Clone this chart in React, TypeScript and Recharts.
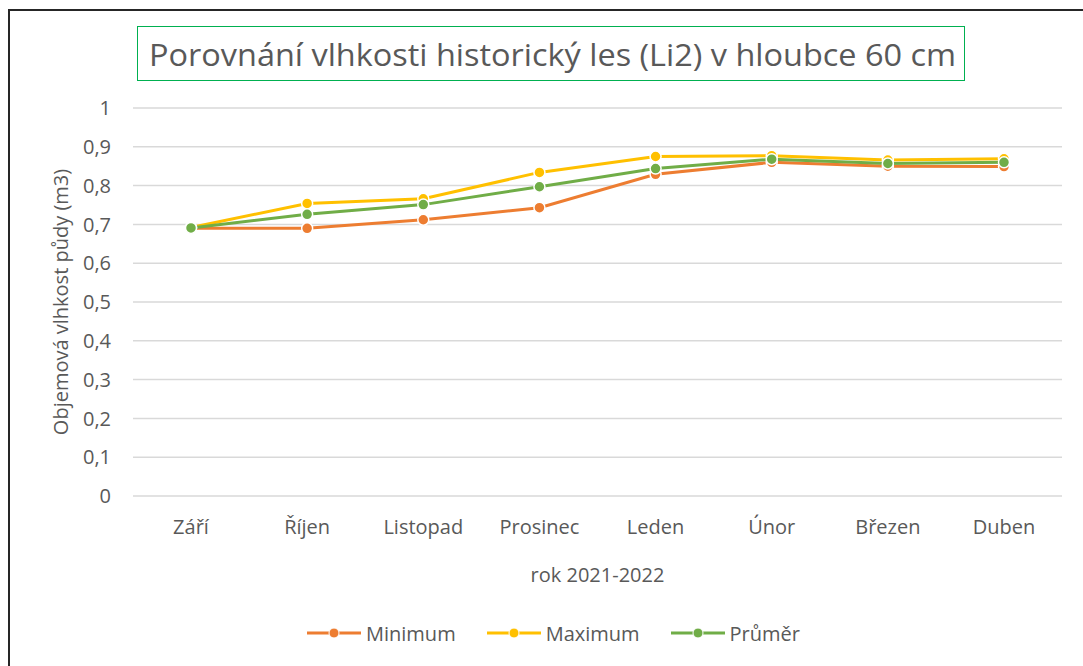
import React from 'react';
import { LineChart, Line, XAxis, YAxis, CartesianGrid, Legend } from 'recharts';

const months = ['Září', 'Říjen', 'Listopad', 'Prosinec', 'Leden', 'Únor', 'Březen', 'Duben'];
const minimum = [0.69, 0.69, 0.712, 0.743, 0.829, 0.86, 0.85, 0.849];
const maximum = [0.692, 0.754, 0.766, 0.834, 0.875, 0.877, 0.866, 0.869];
const prumer = [0.691, 0.726, 0.751, 0.797, 0.844, 0.868, 0.857, 0.86];
const yTicks = [0, 0.1, 0.2, 0.3, 0.4, 0.5, 0.6, 0.7, 0.8, 0.9, 1];

const seriesNames = ['Minimum', 'Maximum', 'Průměr'];
const colors = ['#ED7D31', '#FFC000', '#70AD47'];

const data = months.map((m, i) => ({
  month: m,
  Minimum: minimum[i],
  Maximum: maximum[i],
  'Průměr': prumer[i],
}));

const FONT = '"Open Sans", sans-serif';
const TXT = '#595959';

const fmt = (v: number) => (v === 0 || v === 1 ? String(v) : String(v).replace('.', ','));

const LegendContent = () => {
  return (
    <div style={{ display: 'flex', alignItems: 'center', paddingLeft: 307, fontFamily: FONT, fontSize: 20, color: TXT, height: 28 }}>
      {seriesNames.map((name, i) => (
        <div key={name} style={{ display: 'flex', alignItems: 'center', marginRight: 31 }}>
          <svg width={54} height={16} style={{ marginRight: 5 }}>
            <line x1={0} y1={8} x2={54} y2={8} stroke={colors[i]} strokeWidth={3} />
            <circle cx={27} cy={8} r={5} fill={colors[i]} stroke="#fff" strokeWidth={1} />
          </svg>
          <span>{name}</span>
        </div>
      ))}
    </div>
  );
};

export default function App() {
  return (
    <div style={{ position: 'absolute', left: 0, top: 0, width: 1083, height: 666, background: '#fff', overflow: 'hidden' }}>
      <div style={{ position: 'absolute', left: 8, top: 9, width: 1200, height: 800, borderTop: '2px solid #262626', borderLeft: '2px solid #262626' }} />
      <div style={{ position: 'absolute', left: 137, top: 26, width: 826, height: 53, border: '1.5px solid #00B050' }}>
        <svg width={826} height={53} style={{ display: 'block' }}>
          <text x={11} y={39} fontFamily={FONT} fontSize={31} fill={TXT} textLength={807} lengthAdjust="spacingAndGlyphs">
            Porovnání vlhkosti historický les (Li2) v hloubce 60 cm
          </text>
        </svg>
      </div>
      <div style={{ position: 'absolute', left: 0, top: 0 }}>
        <LineChart width={1083} height={666} data={data} margin={{ top: 108, right: 21, left: 0, bottom: 0 }}>
          <CartesianGrid vertical={false} stroke="#D9D9D9" strokeWidth={1.5} />
          <XAxis
            dataKey="month"
            height={142}
            padding={{ left: 58, right: 58 }}
            tickSize={0}
            tickMargin={24}
            axisLine={false}
            tick={{ fontFamily: FONT, fontSize: 20, fill: TXT }}
            label={{
              content: (p: any) => {
                const vb = p.viewBox;
                return (
                  <text x={vb.x + vb.width / 2} y={vb.y + 86} textAnchor="middle" fontFamily={FONT} fontSize={20} fill={TXT}>
                    rok 2021-2022
                  </text>
                );
              },
            }}
          />
          <YAxis
            width={133}
            domain={[0, 1]}
            ticks={yTicks}
            tickFormatter={fmt}
            tickSize={0}
            tickMargin={22}
            axisLine={false}
            tick={{ fontFamily: FONT, fontSize: 20, fill: TXT }}
            label={{
              content: (p: any) => {
                const vb = p.viewBox;
                const cx = vb.x + 60;
                const cy = vb.y + vb.height / 2;
                return (
                  <text x={cx} y={cy} transform={`rotate(-90 ${cx} ${cy})`} textAnchor="middle" dominantBaseline="central" fontFamily={FONT} fontSize={20} fill={TXT}>
                    Objemová vlhkost půdy (m3)
                  </text>
                );
              },
            }}
          />
          <Legend content={<LegendContent />} wrapperStyle={{ position: 'absolute', top: 619, left: 0, width: 1083 }} />
          {seriesNames.map((s, i) => (
            <Line
              key={s}
              type="linear"
              dataKey={s}
              stroke={colors[i]}
              strokeWidth={3}
              dot={{ r: 5.5, fill: colors[i], stroke: '#fff', strokeWidth: 1.5 }}
              isAnimationActive={false}
            />
          ))}
        </LineChart>
      </div>
    </div>
  );
}
